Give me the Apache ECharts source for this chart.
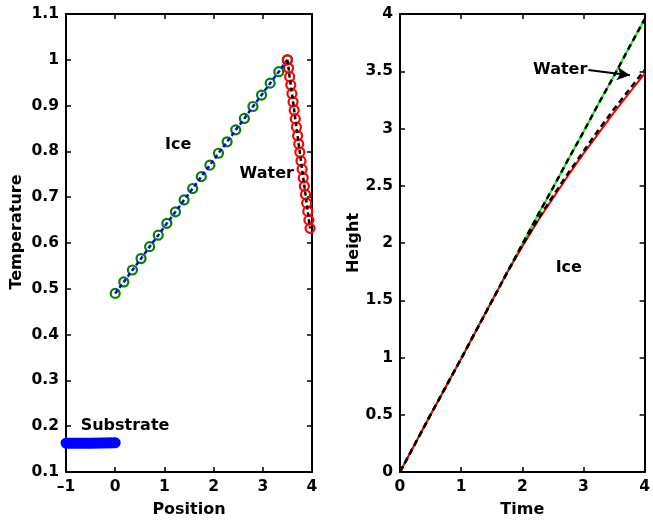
<!DOCTYPE html>
<html>
<head>
<meta charset="utf-8">
<script src="https://cdn.jsdelivr.net/npm/echarts@6/dist/echarts.min.js"></script>
<style>
html,body{margin:0;padding:0;background:#fff;}
#chart{width:653px;height:523px;}
</style>
</head>
<body>
<div id="chart"></div>
<script>
// ---- Left panel: temperature profile ----
const iceX = [0,0.175,0.35,0.525,0.7,0.875,1.05,1.225,1.4,1.575,1.75,1.925,2.1,2.275,2.45,2.625,2.8,2.975,3.15,3.325,3.5];
const iceT = [0.490,0.515,0.541,0.566,0.592,0.617,0.643,0.668,0.694,0.719,0.745,0.770,0.796,0.821,0.847,0.872,0.898,0.923,0.949,0.974,1.000];
const waterX = [3.5,3.523,3.546,3.569,3.592,3.615,3.638,3.661,3.684,3.707,3.73,3.753,3.776,3.799,3.822,3.845,3.868,3.891,3.914,3.937,3.96];
const waterT = [1.000,0.982,0.963,0.945,0.926,0.908,0.890,0.871,0.853,0.834,0.816,0.798,0.779,0.761,0.742,0.724,0.706,0.687,0.669,0.650,0.632];
const substrateX = [-1,-0.5,0];
const substrateT = [0.163,0.163,0.164];
const leftXTicks = [-1,0,1,2,3,4];
const leftYTicks = [0.1,0.2,0.3,0.4,0.5,0.6,0.7,0.8,0.9,1,1.1];

// ---- Right panel: height vs time ----
const time = [0,0.25,0.5,0.75,1,1.25,1.5,1.75,2,2.25,2.5,2.75,3,3.25,3.5,3.75,4];
const waterH = [0,0.25,0.5,0.745,0.99,1.24,1.49,1.74,1.99,2.24,2.48,2.73,2.97,3.22,3.46,3.71,3.955];
const iceH = [0,0.25,0.5,0.745,0.99,1.24,1.49,1.74,1.97,2.19,2.39,2.59,2.78,2.96,3.14,3.31,3.48];
const iceHExact = [0,0.25,0.5,0.745,0.99,1.24,1.49,1.74,1.98,2.2,2.41,2.61,2.8,2.99,3.17,3.34,3.51];
const waterHExact = [0,0.25,0.5,0.745,0.99,1.24,1.49,1.74,1.99,2.24,2.48,2.73,2.97,3.22,3.46,3.71,3.955];
const rightXTicks = [0,1,2,3,4];
const rightYTicks = [0,0.5,1,1.5,2,2.5,3,3.5,4];

// annotations (data coordinates)
const leftLabels = [
  {name:'Ice', x:1.28, y:0.815},
  {name:'Water', x:3.08, y:0.752},
  {name:'Substrate', x:0.2, y:0.2015}
];
const rightLabels = [
  {name:'Ice', x:2.76, y:1.78},
  {name:'Water', x:2.62, y:3.51}
];
const arrowFrom = [3.08, 3.51];
const arrowTo = [3.76, 3.465];

const FONT = 'DejaVu Sans';
const zip = (a,b) => a.map((v,i)=>[v,b[i]]);
const fmt = v => {
  const s = String(parseFloat(Number(v).toFixed(2)));
  return s.charAt(0)==='-' ? '\u2013'+s.slice(1) : s;
};

function mkAxis(grid, pos, min, max, interval, showLabel, name, nameGap, extra) {
  const ax = {
    type:'value', gridIndex:grid, position:pos, min:min, max:max, interval:interval,
    axisLine:{show:true, onZero:false, lineStyle:{color:'#000', width:2}},
    axisTick:{show:true, inside:true, length:5, lineStyle:{color:'#000', width:1.5}},
    splitLine:{show:false},
    axisLabel:{show:showLabel, color:'#000', fontFamily:FONT, fontWeight:'bold', fontSize:15.5, margin:7, formatter:fmt}
  };
  if (name) {
    ax.name = name; ax.nameLocation='middle'; ax.nameGap=nameGap;
    ax.nameTextStyle = Object.assign({color:'#000', fontFamily:FONT, fontWeight:'bold', fontSize:16}, extra||{});
  }
  return ax;
}

const labelSeries = (labels, xi, yi) => ({
  type:'scatter', xAxisIndex:xi, yAxisIndex:yi, symbolSize:0, silent:true, z:10,
  itemStyle:{opacity:1},
  data: labels.map(l=>({name:l.name, value:[l.x,l.y]})),
  label:{show:true, position:'inside', formatter:'{b}', color:'#000', fontFamily:FONT, fontWeight:'bold', fontSize:16}
});

const chart = echarts.init(document.getElementById('chart'), null, {renderer:'canvas'});
chart.setOption({
  animation:false,
  backgroundColor:'#fff',
  grid:[
    {left:66, right:341, top:14, bottom:50},
    {left:400, right:7, top:14, bottom:50}
  ],
  xAxis:[
    mkAxis(0,'bottom',-1,4,1,true,'Position',30),
    mkAxis(0,'top',-1,4,1,false),
    mkAxis(1,'bottom',0,4,1,true,'Time',30),
    mkAxis(1,'top',0,4,1,false)
  ],
  yAxis:[
    mkAxis(0,'left',0.1,1.1,0.1,true,'Temperature',41,{padding:[0,0,0,22]}),
    mkAxis(0,'right',0.1,1.1,0.1,false),
    mkAxis(1,'left',0,4,0.5,true,'Height',32),
    mkAxis(1,'right',0,4,0.5,false)
  ],
  series:[
    // left panel
    {type:'line', xAxisIndex:0, yAxisIndex:0, data:zip(substrateX,substrateT), symbol:'none', clip:false,
     lineStyle:{color:'#0000ff', width:11, cap:'round'}},
    {type:'scatter', xAxisIndex:0, yAxisIndex:0, data:zip(iceX,iceT), symbol:'circle', symbolSize:9,
     itemStyle:{color:'rgba(0,0,0,0)', borderColor:'#008000', borderWidth:2.2, opacity:1}},
    {type:'line', xAxisIndex:0, yAxisIndex:0, data:zip(iceX,iceT), symbol:'none',
     lineStyle:{color:'#0000ff', width:2.5, type:[4,3]}},
    {type:'scatter', xAxisIndex:0, yAxisIndex:0, data:zip(waterX,waterT), symbol:'circle', symbolSize:9, clip:false,
     itemStyle:{color:'rgba(0,0,0,0)', borderColor:'#ff0000', borderWidth:2.2, opacity:1}},
    {type:'line', xAxisIndex:0, yAxisIndex:0, data:zip(waterX,waterT), symbol:'none',
     lineStyle:{color:'#000', width:2.5, type:[4,3]}},
    labelSeries(leftLabels,0,0),
    // right panel
    {type:'line', xAxisIndex:2, yAxisIndex:2, data:zip(time,waterH), symbol:'none',
     lineStyle:{color:'#00ff00', width:2}},
    {type:'line', xAxisIndex:2, yAxisIndex:2, data:zip(time,iceH), symbol:'none',
     lineStyle:{color:'#ff0000', width:2}},
    {type:'line', xAxisIndex:2, yAxisIndex:2, data:zip(time,waterHExact), symbol:'none',
     lineStyle:{color:'#000', width:2.5, type:[6,4]}},
    {type:'line', xAxisIndex:2, yAxisIndex:2, data:zip(time,iceHExact), symbol:'none',
     lineStyle:{color:'#000', width:2.5, type:[6,4]},
     markLine:{silent:true, symbol:['none','arrow'], symbolSize:[10,13], label:{show:false},
       lineStyle:{color:'#000', width:2, type:'solid'},
       data:[[{coord:arrowFrom},{coord:arrowTo}]]}},
    labelSeries(rightLabels,2,2)
  ]
});
</script>
</body>
</html>
